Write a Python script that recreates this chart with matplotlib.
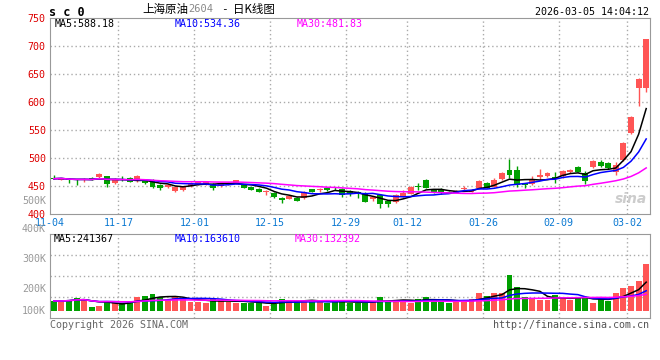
import numpy as np
import pandas as pd
import matplotlib
matplotlib.use("Agg")
import matplotlib.pyplot as plt

# 上海原油2604 日K线 (2025-11-04 .. 2026-03-04), one row per trading day
opens = [465, 461, 463, 462, 460, 465, 466, 468, 455, 461, 464, 461, 459, 461, 452, 448, 441, 442, 450, 452,
         452, 454, 450, 452, 455, 452, 448, 445, 439.5, 438, 429, 427, 429, 428, 444, 443, 446, 445, 444, 441,
         440, 438, 426, 434, 423, 421, 431, 436, 450, 460, 443, 444, 440, 437, 444, 440, 446, 455, 449, 462,
         479, 479, 455, 453, 465.5, 467, 466.7, 467.9, 475.6, 484.5, 473.8, 484.5, 493.5, 491.7, 474.4, 496.4, 544, 624.4, 624.4]
highs = [469, 465, 464, 462.5, 465, 465.5, 474, 468.5, 465, 467, 466, 470, 460, 462, 453, 453, 450, 449, 457, 459,
         458, 455, 455, 457, 461, 453, 449, 446, 443, 439, 430, 433, 430, 441, 445, 447, 447, 448, 446, 442,
         441, 440, 431, 435, 424, 436, 442, 449.5, 456, 462, 444, 447, 441, 443, 450, 444, 460, 458, 465, 475,
         499, 486, 456, 468, 480, 475, 475.6, 479, 479.5, 486.3, 477.4, 496, 496.4, 492.9, 493.5, 529, 575, 643, 713]
lows = [462, 460, 456, 452, 457, 460, 463, 449, 453, 459.5, 457, 458, 454, 446, 442, 447, 439, 441, 449, 451,
        451, 443, 449, 451, 453, 446, 442, 439, 434, 429, 419, 426, 423, 427, 439, 439, 441, 443, 431, 433,
        428, 421, 424, 411, 413, 420, 430, 435, 443, 446, 437, 436, 437, 439, 443, 440, 444, 446, 448, 461,
        465, 449, 446, 452, 461, 466, 454.8, 463.7, 474, 475, 453.6, 483, 483.3, 481, 469.6, 495, 543, 593, 618]
closes = [463, 464, 460, 460, 462, 461, 472, 453, 461, 460, 458, 467, 455, 448, 447, 452, 448, 448, 456, 458,
          457, 447, 454, 456, 460, 447, 443.5, 440, 440, 431, 425, 432, 424, 440, 440, 444, 442, 444, 434, 436,
          436, 422, 430, 417, 417, 434, 437, 449, 448, 447, 439, 437, 438, 441, 447, 443, 459, 447, 461, 474,
          470, 451, 451, 462, 469.6, 473, 462.5, 477.4, 478.6, 475.6, 459.5, 495.2, 486.3, 482.7, 487, 527.5, 573, 641.5, 712]
volumes = [84, 84, 92, 112, 103, 34, 42, 84, 70, 65, 75, 120, 128, 143, 120, 92, 126, 98, 78, 78,
           70, 98, 92, 78, 70, 70, 70, 78, 42, 59, 101, 92, 84, 92, 78, 78, 70, 78, 84, 70,
           70, 70, 78, 120, 78, 92, 92, 70, 101, 120, 92, 84, 65, 78, 92, 101, 148, 126, 154, 154,
           302, 204, 120, 107, 92, 92, 134, 120, 92, 109, 117, 70, 109, 81, 154, 196, 210, 252, 397]
volumes = [v * 1000 for v in volumes]

date_idx = [0, 9, 19, 29, 39, 47, 57, 67, 76]
date_labels = ["11-04", "11-17", "12-01", "12-15", "12-29", "01-12", "01-26", "02-09", "03-02"]

price_ticks = [400, 450, 500, 550, 600, 650, 700, 750]
vol_tick_labels = ["500K", "400K", "300K", "200K", "100K"]

ma_price_text = ["MA5:588.18", "MA10:534.36", "MA30:481.83"]
ma_vol_text = ["MA5:241367", "MA10:163610", "MA30:132392"]

RED = "#ff5555"
GREEN = "#00a000"
GRID = "#aaaaaa"
MONO = "DejaVu Sans Mono"
CJK = ["Noto Sans CJK SC", "DejaVu Sans"]
ma_colors = ["black", "#0000ff", "#ff00ff"]

df = pd.DataFrame({"o": opens, "h": highs, "l": lows, "c": closes, "v": volumes})
x = np.arange(len(df))
up = df["c"] >= df["o"]
colors = np.where(up, RED, GREEN)

W, H = 660, 360


def box(l, t, r, b):
    return [l / W, 1 - b / H, (r - l) / W, (b - t) / H]


def px(xp, yp):
    return xp / W, 1 - yp / H


fig = plt.figure(figsize=(6.6, 3.6), dpi=100)
fig.patch.set_facecolor("white")
ax = fig.add_axes(box(50, 18, 650, 214))
axv = fig.add_axes(box(50, 234, 650, 318))

# K线
ax.vlines(x, df["l"], df["h"], colors=colors, linewidth=1, zorder=3)
body = np.maximum((df["c"] - df["o"]).abs(), 0.8)
ax.bar(x, body, bottom=np.minimum(df["o"], df["c"]), width=0.78, color=colors, linewidth=0, zorder=3)
for n, col in zip([5, 10, 30], ma_colors):
    ax.plot(x, df["c"].rolling(n, min_periods=1).mean(), color=col, linewidth=1.1, zorder=4)

ax.set_xlim(-0.5, len(df) - 0.5)
ax.set_ylim(400, 750)
for v in price_ticks[1:-1]:
    ax.axhline(v, color=GRID, linewidth=1, linestyle=(0, (1, 2)), zorder=1)
for p in date_idx[1:]:
    ax.axvline(p - 0.5, color=GRID, linewidth=1, linestyle=(0, (1, 2)), zorder=1)
ax.set_yticks(price_ticks)
ax.set_yticklabels([str(v) for v in price_ticks], color="#dd0000", fontfamily=MONO, fontsize=7.2)
ax.set_xticks([p - 0.5 for p in date_idx])
ax.set_xticklabels(date_labels, color="#0a78d2", fontfamily=MONO, fontsize=7.2)
ax.tick_params(length=0, pad=3)
for s in ax.spines.values():
    s.set_color("#999999")

# 成交量
axv.bar(x, df["v"], width=0.78, color=colors, linewidth=0, zorder=3)
for n, col in zip([5, 10, 30], ma_colors):
    axv.plot(x, df["v"].rolling(n, min_periods=1).mean(), color=col, linewidth=1.1, zorder=4)
axv.set_xlim(-0.5, len(df) - 0.5)
vlo, vhi = -59000, 646000
axv.set_ylim(vlo, vhi)
for f in [0.25, 0.5, 0.75]:
    axv.axhline(vlo + (vhi - vlo) * f, color=GRID, linewidth=1, linestyle=(0, (1, 2)), zorder=1)
for p in date_idx[1:]:
    axv.axvline(p - 0.5, color=GRID, linewidth=1, linestyle=(0, (1, 2)), zorder=1)
axv.set_xticks([])
axv.set_yticks([])
for s in axv.spines.values():
    s.set_color("#999999")

for lab, yp in zip(vol_tick_labels, [201, 229, 259, 289, 311]):
    fig.text(*px(46, yp), lab, ha="right", va="center", color="#999999", fontfamily=MONO, fontsize=7.2)

# MA labels
for t, col, xp in zip(ma_price_text, ma_colors, [55, 175, 297]):
    fig.text(*px(xp, 24), t, ha="left", va="center", color=col, fontfamily=MONO, fontsize=7.2)
for t, col, xp in zip(ma_vol_text, ma_colors, [54, 175, 295]):
    fig.text(*px(xp, 239), t, ha="left", va="center", color=col, fontfamily=MONO, fontsize=7.2)

# header
fig.text(*px(49, 12), "s c 0", ha="left", va="center", fontfamily=MONO, fontweight="bold", fontsize=8.5)
fig.text(*px(142, 9.5), "上海原油", ha="left", va="center", fontfamily=CJK, fontsize=8.3)
fig.text(*px(188, 9.5), "2604", ha="left", va="center", color="#888888", fontfamily=MONO, fontsize=7.5)
fig.text(*px(221, 9.5), "-", ha="left", va="center", fontfamily=MONO, fontsize=8)
fig.text(*px(233, 9.5), "日K线图", ha="left", va="center", fontfamily=CJK, fontsize=8.3)
fig.text(*px(649, 12), "2026-03-05 14:04:12", ha="right", va="center", fontfamily=MONO, fontsize=7.2)

# footer + watermark
fig.text(*px(50, 325), "Copyright 2026 SINA.COM", ha="left", va="center", color="#666666",
         fontfamily=MONO, fontsize=7.2)
fig.text(*px(649, 325), "http://finance.sina.com.cn", ha="right", va="center", color="#555555",
         fontfamily=MONO, fontsize=7.2)
fig.text(*px(647, 199), "sina", ha="right", va="center", color="#cccccc", fontsize=10,
         fontstyle="italic", fontweight="bold")

fig.savefig("out.png", dpi=100)
